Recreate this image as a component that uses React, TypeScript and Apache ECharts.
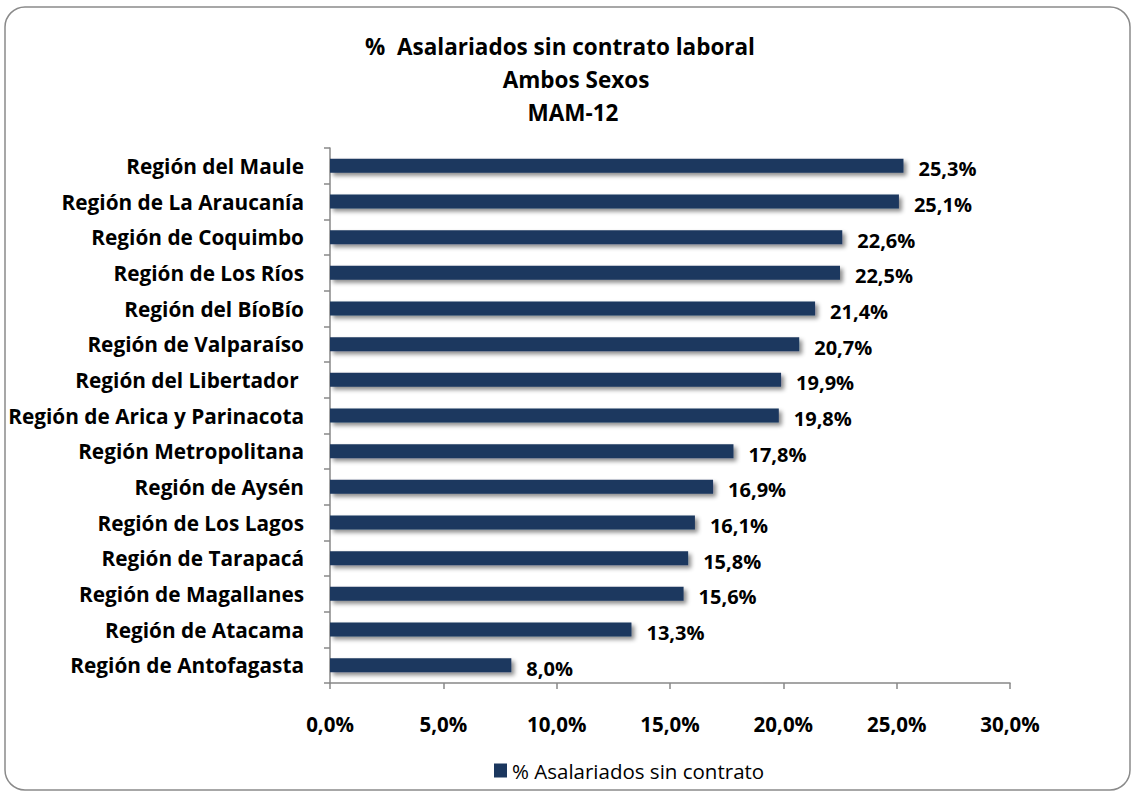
import React, { useEffect, useRef } from "react";
import * as echarts from "echarts";

const categories = [
  "Región del Maule",
  "Región de La Araucanía",
  "Región de Coquimbo",
  "Región de Los Ríos",
  "Región del BíoBío",
  "Región de Valparaíso",
  "Región del Libertador ",
  "Región de Arica y Parinacota",
  "Región Metropolitana",
  "Región de Aysén",
  "Región de Los Lagos",
  "Región de Tarapacá",
  "Región de Magallanes",
  "Región de Atacama",
  "Región de Antofagasta",
];
const values = [25.3, 25.1, 22.6, 22.5, 21.4, 20.7, 19.9, 19.8, 17.8, 16.9, 16.1, 15.8, 15.6, 13.3, 8.0];
const seriesName = "% Asalariados sin contrato";
const titleLines = ["%  Asalariados sin contrato laboral", "Ambos Sexos", "MAM-12"];
const titleCenters = [555, 571, 568];
const titleTops = [30, 63, 96];

const fmt = (v: number) => v.toFixed(1).replace(".", ",") + "%";

export default function App() {
  const ref = useRef<HTMLDivElement>(null);
  useEffect(() => {
    if (!ref.current) return;
    const chart = echarts.init(ref.current, null, { renderer: "svg" });
    chart.setOption({
      animation: false,
      backgroundColor: "#ffffff",
      title: titleLines.map((t, i) => ({
        text: t,
        left: titleCenters[i],
        top: titleTops[i],
        textAlign: "center",
        textStyle: {
          fontFamily: "Open Sans",
          fontWeight: "bold",
          fontSize: 22.5,
          color: "#000",
        },
      })),
      graphic: [
        {
          type: "rect",
          shape: { x: 5, y: 7, width: 1125, height: 783, r: 20 },
          style: { fill: "none", stroke: "#8a8a8a", lineWidth: 1.5 },
          z: -1,
        },
      ],
      legend: {
        data: [seriesName],
        left: 489,
        top: 755,
        icon: "rect",
        itemWidth: 13,
        itemHeight: 14,
        itemGap: 4,
        textStyle: { fontFamily: "Open Sans", fontSize: 20.5, color: "#000" },
      },
      grid: { left: 330, right: 121, top: 148, bottom: 109, containLabel: false },
      xAxis: {
        type: "value",
        min: 0,
        max: 30,
        interval: 5,
        axisLine: { show: true, lineStyle: { color: "#888", width: 1.5 } },
        axisTick: { show: true, length: 6, lineStyle: { color: "#888", width: 1.5 } },
        splitLine: { show: false },
        axisLabel: {
          formatter: (v: number) => fmt(v),
          margin: 30,
          fontFamily: "Open Sans",
          fontWeight: "bold",
          fontSize: 20.5,
          color: "#000",
        },
      },
      yAxis: {
        type: "category",
        inverse: true,
        data: categories,
        axisLine: { show: true, lineStyle: { color: "#888", width: 1.5 } },
        axisTick: { show: true, length: 6, lineStyle: { color: "#888", width: 1.5 } },
        axisLabel: {
          margin: 26,
          fontFamily: "Open Sans",
          fontWeight: "bold",
          fontSize: 20.8,
          color: "#000",
        },
      },
      series: [
        {
          name: seriesName,
          type: "bar",
          data: values,
          barWidth: 14,
          itemStyle: {
            color: "#1b375e",
            shadowColor: "rgba(0,0,0,0.45)",
            shadowBlur: 4,
            shadowOffsetX: 3,
            shadowOffsetY: 3,
          },
          label: {
            show: true,
            position: "right",
            distance: 15,
            formatter: (p: any) => fmt(p.value),
            fontFamily: "Open Sans",
            fontWeight: "bold",
            fontSize: 20,
            color: "#000",
            offset: [0, 3],
          },
        },
      ],
    });
    return () => chart.dispose();
  }, []);
  return <div ref={ref} style={{ width: 1131, height: 792, position: "absolute", left: 0, top: 0 }} />;
}
